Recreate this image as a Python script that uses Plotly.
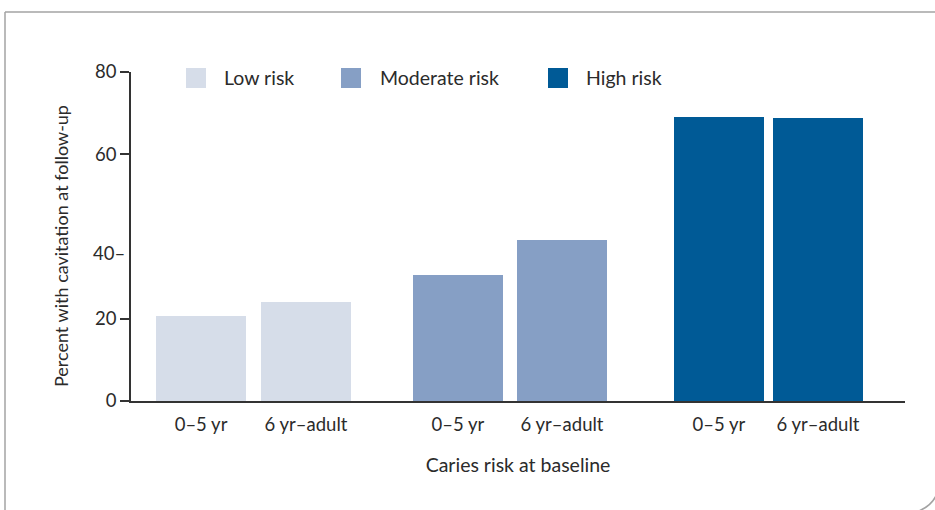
import plotly.graph_objects as go

# ---------------- data ----------------
risk_levels = ["Low risk", "Moderate risk", "High risk"]
age_groups = ["0–5 yr", "6 yr–adult"]
low_risk = [20.7, 24.1]
moderate_risk = [30.6, 39.1]
high_risk = [69.1, 68.8]
y_tick_values = [0, 20, 60, 80]
y_tick_labels = ["0", "20", "60", "80"]
misplaced_40_label_value = 36.1   # the "40" label sits below its true height in the original

# ---------------- styling / layout ----------------
colors = ["#d6dde9", "#869fc5", "#005a96"]
series = [low_risk, moderate_risk, high_risk]
FONT = "Lato"
TXT = "#2b2b2b"
AX = "#333333"

W, H = 935, 510
L, R, T, B = 131, 30, 72, 109
PW, PH = W - L - R, H - T - B


def px_x(x):
    return (x - L) / PW


def px_y(y):
    return 1 - (y - T) / PH


group_centers = [1.361, 4.211, 7.083]
group_offsets = [0.583, 0.578, 0.55]
bar_width = 1.0

fig = go.Figure()
tickvals, ticktext = [], []
for name, vals, col, gc, off in zip(risk_levels, series, colors, group_centers, group_offsets):
    xs = [gc - off, gc + off]
    tickvals += xs
    ticktext += age_groups
    fig.add_trace(go.Bar(x=xs, y=vals, name=name, marker_color=col,
                         marker_line_width=0, width=bar_width, showlegend=False))

shapes = []
annotations = []
# legend swatches + labels
legend_sw_x = [186, 341, 548]
legend_tx_x = [222, 378, 584]
for name, col, sx, tx in zip(risk_levels, colors, legend_sw_x, legend_tx_x):
    shapes.append(dict(type="rect", xref="paper", yref="paper",
                       x0=px_x(sx), x1=px_x(sx + 20), y0=px_y(88), y1=px_y(68),
                       fillcolor=col, line_width=0))
    annotations.append(dict(text=name, xref="paper", yref="paper",
                            x=px_x(tx), y=px_y(78), xanchor="left", yanchor="middle",
                            showarrow=False, font=dict(family=FONT, size=19.5, color=TXT)))

# misplaced "40" label
annotations.append(dict(text="40–", xref="paper", yref="y", x=px_x(127),
                        y=misplaced_40_label_value, xanchor="right", yanchor="middle",
                        showarrow=False, font=dict(family=FONT, size=18.5, color=TXT)))

# y axis title
annotations.append(dict(text="Percent with cavitation at follow-up", xref="paper", yref="paper",
                        x=px_x(61), y=px_y(246), textangle=-90, xanchor="center", yanchor="middle",
                        showarrow=False, font=dict(family=FONT, size=18, color=TXT)))

# frame
frame_col = "#a3a3a3"
shapes.append(dict(type="line", xref="paper", yref="paper", x0=px_x(5), x1=px_x(940),
                   y0=px_y(12), y1=px_y(12), line=dict(color=frame_col, width=1.5)))
shapes.append(dict(type="line", xref="paper", yref="paper", x0=px_x(5), x1=px_x(5),
                   y0=px_y(12), y1=px_y(515), line=dict(color=frame_col, width=1.5)))
shapes.append(dict(type="path", xref="paper", yref="paper",
                   path=f"M {px_x(938)},{px_y(490)} Q {px_x(934)},{px_y(507)} {px_x(913)},{px_y(513)}",
                   line=dict(color=frame_col, width=1.5)))

fig.update_layout(
    width=W, height=H,
    margin=dict(l=L, r=R, t=T, b=B),
    paper_bgcolor="white", plot_bgcolor="white",
    font=dict(family=FONT, size=18, color=TXT),
    shapes=shapes, annotations=annotations,
    bargap=0,
    xaxis=dict(range=[0, PW / 90], tickvals=tickvals, ticktext=ticktext,
               showline=True, linecolor=AX, linewidth=1.5, ticks="",
               ticklabelstandoff=6,
               showgrid=False, zeroline=False, tickfont=dict(size=18.5, color=TXT),
               title=dict(text="Caries risk at baseline", font=dict(size=19.5, color=TXT), standoff=24)),
    yaxis=dict(range=[0, 80], tickvals=y_tick_values, ticktext=y_tick_labels,
               showline=True, linecolor=AX, linewidth=1.5, ticks="outside",
               ticklen=9, tickwidth=1.5, tickcolor=AX,
               showgrid=False, zeroline=False, tickfont=dict(size=18.5, color=TXT)),
)

fig.write_html("out.html", config={"displayModeBar": False},
               post_script="document.body.style.margin='0';")
